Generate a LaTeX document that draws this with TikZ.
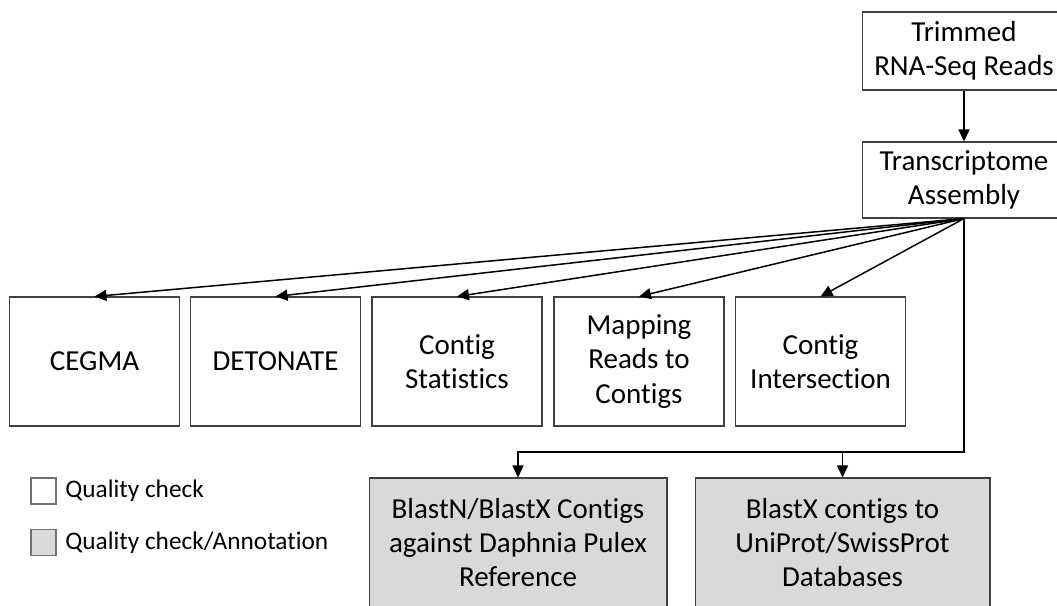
\documentclass[tikz,border=0pt]{standalone}
\usepackage{fontspec}
\setmainfont{Carlito}[Ligatures=NoCommon]
\usetikzlibrary{arrows.meta}
\definecolor{annotgray}{RGB}{217,217,217}

\begin{document}
\begin{tikzpicture}[x=0.02cm,y=-0.02cm,>={Triangle[length=2.4mm,width=2.2mm]}]
        % Styles
        \tikzstyle{tool box}=[draw=black!75,line width=0.6pt,align=center,inner sep=0pt,font=\fontsize{16.5}{19.5}\selectfont]
        \tikzstyle{check box}=[tool box,fill=white,minimum width=3.4cm,minimum height=2.58cm]
        \tikzstyle{annot box}=[tool box,fill=annotgray,minimum height=2.58cm]
        \tikzstyle{input box}=[tool box,fill=white,minimum width=4.08cm]
        \tikzstyle{key box}=[draw=black!55,line width=0.6pt,minimum width=0.5cm,minimum height=0.52cm,inner sep=0pt]
        \tikzstyle{key text}=[anchor=west,inner sep=0pt,font=\fontsize{14.4}{16}\selectfont]
        \tikzstyle{link}=[->,line width=0.85pt]
        %frame
        \clip (0,0) rectangle (1057,605);
        %input and assembly
        \node[input box,minimum height=1.56cm] (trimmed) at (964,51) {Trimmed\\RNA-Seq Reads};
        \node[input box,minimum height=1.52cm] (assembly) at (964,180) {Transcriptome\\Assembly};
        %quality checks
        \node[check box] (cegma) at (94.5,361.5) {CEGMA};
        \node[check box] (detonate) at (275.5,361.5) {DETONATE};
        \node[check box] (stats) at (457,361.5) {Contig\\Statistics};
        \node[check box] (mapping) at (639,361.5) {Mapping\\Reads to\\Contigs};
        \node[check box] (intersect) at (820.5,361.5) {Contig\\Intersection};
        %annotation
        \node[annot box,minimum width=5.96cm] (blastn) at (518,542.5) {BlastN/BlastX Contigs\\against Daphnia Pulex\\Reference};
        \node[annot box,minimum width=5.9cm] (blastx) at (842.5,542.5) {BlastX contigs to\\UniProt/SwissProt\\Databases};
        %legend
        \node[key box,fill=white] (key check) at (43.5,491) {};
        \node[key box,fill=annotgray] (key annot) at (43.5,542.5) {};
        \node[key text] (key check text) at (65,491) {Quality check};
        \node[key text] (key annot text) at (65,542.5) {Quality check/Annotation};
        %connectors
        \draw[link] (trimmed) -- (assembly);
        \foreach \n in {cegma,detonate,stats,mapping,intersect}
            \draw[link] (assembly.south) -- (\n.north);
        \coordinate (turn) at (assembly.south |- 0,452);
        \draw[link] (assembly.south) -- (turn) -| (blastn.north);
        \draw[link] (turn -| blastx.north) -- (blastx.north);
    \end{tikzpicture}
\end{document}
